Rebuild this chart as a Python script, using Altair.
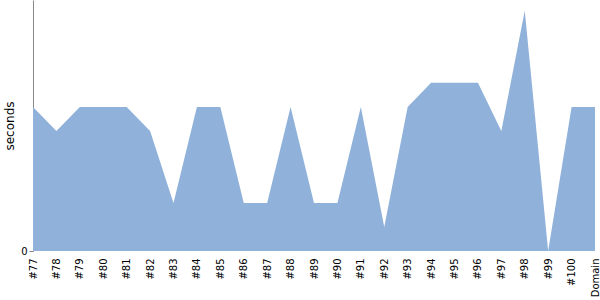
import altair as alt
import pandas as pd

builds = ["#77", "#78", "#79", "#80", "#81", "#82", "#83", "#84", "#85", "#86",
          "#87", "#88", "#89", "#90", "#91", "#92", "#93", "#94", "#95", "#96",
          "#97", "#98", "#99", "#100", "Domain"]
seconds = [6, 5, 6, 6, 6, 5, 2, 6, 6, 2,
           2, 6, 2, 2, 6, 1, 6, 7, 7, 7,
           5, 10, 0, 6, 6]

df = pd.DataFrame({"build": builds, "seconds": seconds})

chart = alt.Chart(df).mark_area(color="#8fb1da", opacity=1, interpolate="linear").encode(
    x=alt.X("build:N", sort=builds, title=None,
            scale=alt.Scale(type="point", padding=0),
            axis=alt.Axis(labelAngle=270, labelFontSize=10, labelFont="DejaVu Sans",
                          labelColor="#000", ticks=False, domain=False, labelPadding=7)),
    y=alt.Y("seconds:Q", title="seconds",
            scale=alt.Scale(domain=[0, 10.45], nice=False),
            axis=alt.Axis(values=[0], grid=False, labelFontSize=10, labelFont="DejaVu Sans",
                          labelColor="#000", domainColor="#888", tickColor="#888", tickSize=4,
                          titleFont="DejaVu Sans", titleFontSize=12, titleFontWeight="normal",
                          titleColor="#000", titlePadding=4))
).properties(
    width=562, height=251,
    autosize=alt.AutoSizeParams(type="none"),
    padding={"left": 33, "top": 0, "right": 5, "bottom": 49}
).configure_view(stroke=None)

chart.save("out.html", embed_options={"renderer": "svg", "actions": False})
